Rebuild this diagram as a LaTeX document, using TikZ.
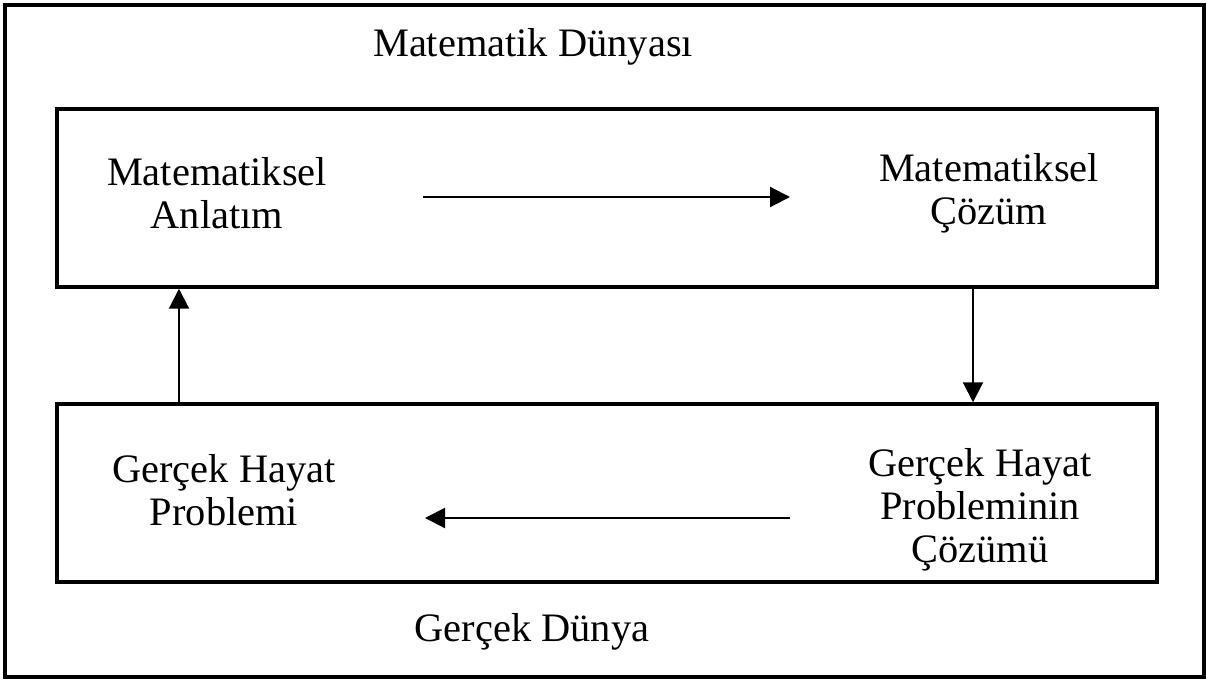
\documentclass[tikz,border=0pt]{standalone}
\usepackage{fontspec}
\setmainfont{Liberation Serif}
\usetikzlibrary{arrows.meta}

\begin{document}
\begin{tikzpicture}[x=0.02cm,y=-0.02cm,
    box/.style={draw, line width=2pt, minimum width=22cm, minimum height=3.56cm},
    lbl/.style={align=center, font=\fontsize{23}{24.5}\selectfont, inner sep=0pt},
    arr/.style={line width=1.2pt, -{Triangle[length=0.4cm,width=0.4cm]}}]
            \useasboundingbox (0,0) rectangle (1206,680);
            \draw[line width=2.2pt] (5,5) rectangle (1204,677);
            % the two worlds
            \node[box] (matbox) at (607,198) {};
            \node[box] (realbox) at (607,493) {};
            \node[lbl] (matw) at (533,47) {Matematik Dünyası};
            \node[lbl] (realw) at (532,632) {Gerçek Dünya};
            % steps
            \node[lbl] (anlatim) at (217,193) {Matematiksel\\Anlatım};
            \node[lbl] (cozum) at (989,193) {Matematiksel\\Çözüm};
            \node[lbl] (problem) at (224,490) {Gerçek Hayat\\Problemi};
            \node[lbl] (pcozum) at (980,510) {Gerçek Hayat\\Probleminin\\Çözümü};
            \coordinate (upx) at (179,0);
            \coordinate (downx) at (973,0);
            \coordinate (t1) at (423,197);
            \coordinate (t2) at (790,197);
            \coordinate (b1) at (790,518);
            \coordinate (b2) at (425,518);
            \draw[arr] (t1) -- (t2);
            \draw[arr] (matbox.south -| downx) -- (realbox.north -| downx);
            \draw[arr] (b1) -- (b2);
            \draw[arr] (realbox.north -| upx) -- (matbox.south -| upx);
        \end{tikzpicture}
\end{document}
